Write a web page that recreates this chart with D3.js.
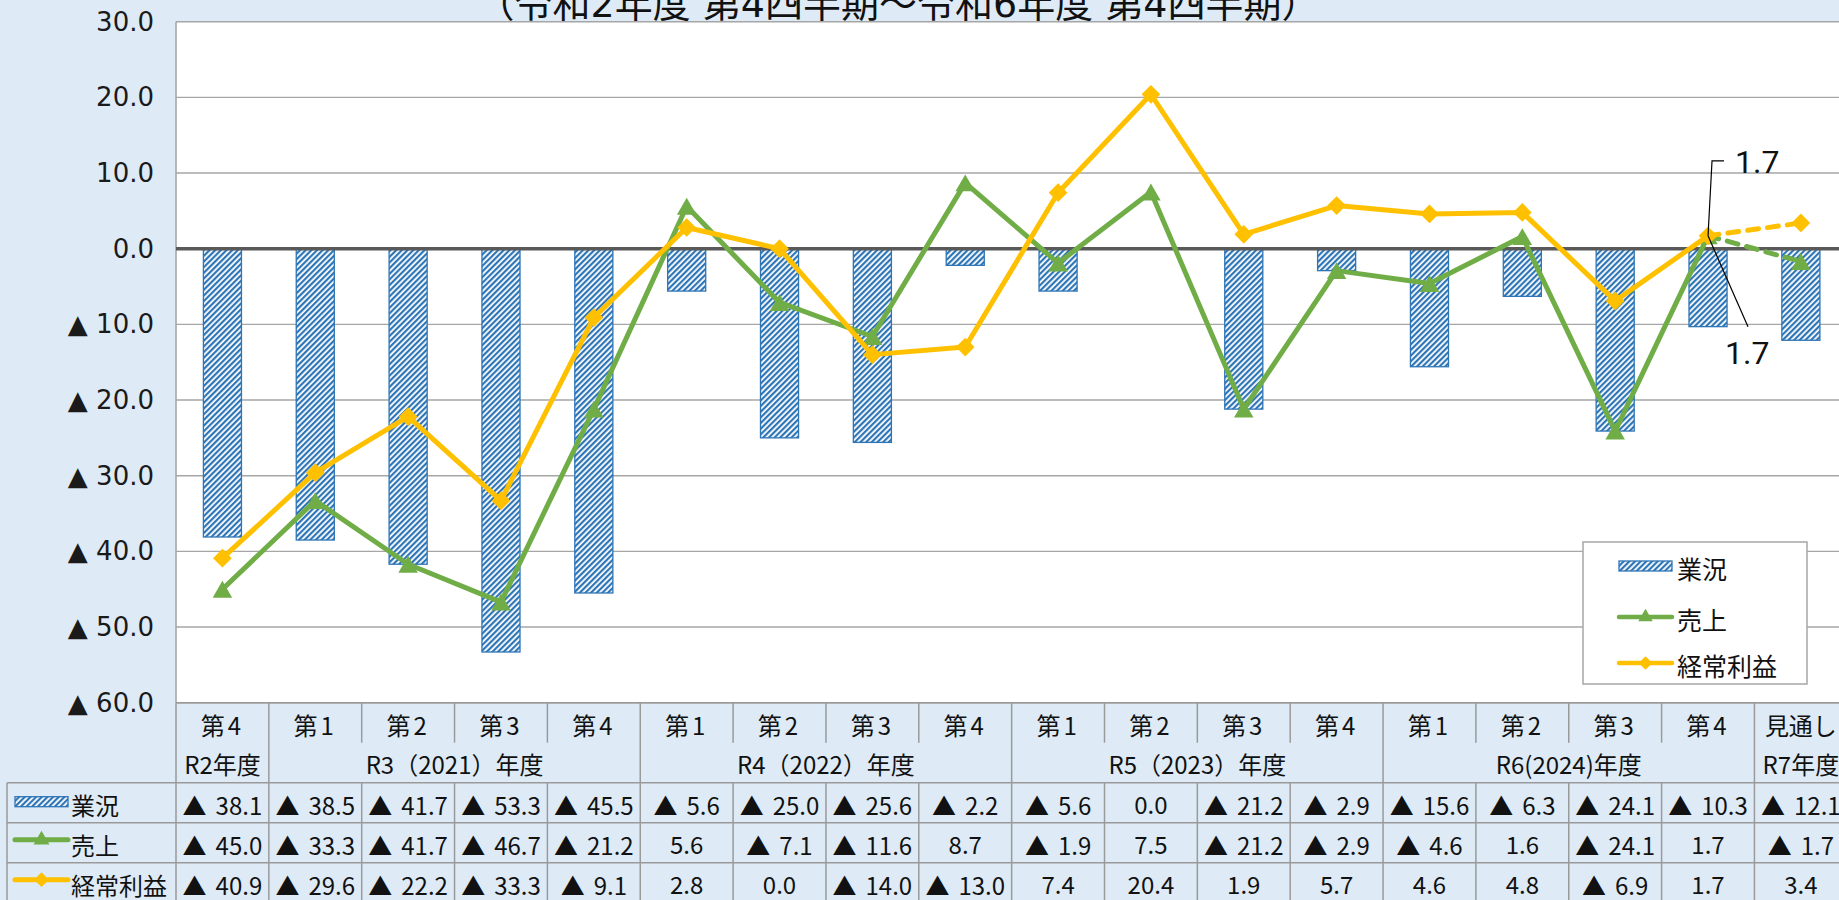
<!DOCTYPE html>
<html>
<head>
<meta charset="utf-8">
<script src="https://cdn.jsdelivr.net/npm/d3@7"></script>
<style>
  html, body { margin: 0; padding: 0; background: #DEEBF7; overflow: hidden; }
  svg { display: block; }
</style>
</head>
<body>
<div id="chart"></div>
<script>
// periods (one per column of the chart / table)
const periods = ["R2Q4", "R3Q1", "R3Q2", "R3Q3", "R3Q4", "R4Q1", "R4Q2", "R4Q3", "R4Q4",
                 "R5Q1", "R5Q2", "R5Q3", "R5Q4", "R6Q1", "R6Q2", "R6Q3", "R6Q4", "R7"];
const quarterLabels = ["第4", "第1", "第2", "第3", "第4", "第1", "第2", "第3", "第4",
                       "第1", "第2", "第3", "第4", "第1", "第2", "第3", "第4", "見通し"];
const yearLabels = ["R2年度", "R3（2021）年度", "R4（2022）年度", "R5（2023）年度", "R6(2024)年度", "R7年度"];
const yearSpans = [1, 4, 4, 4, 4, 1];

// series values (▲ = negative)
const gyokyo = [-38.1, -38.5, -41.7, -53.3, -45.5, -5.6, -25.0, -25.6, -2.2,
                -5.6, 0.0, -21.2, -2.9, -15.6, -6.3, -24.1, -10.3, -12.1];   // 業況
const uriage = [-45.0, -33.3, -41.7, -46.7, -21.2, 5.6, -7.1, -11.6, 8.7,
                -1.9, 7.5, -21.2, -2.9, -4.6, 1.6, -24.1, 1.7, -1.7];        // 売上
const keijo  = [-40.9, -29.6, -22.2, -33.3, -9.1, 2.8, 0.0, -14.0, -13.0,
                7.4, 20.4, 1.9, 5.7, 4.6, 4.8, -6.9, 1.7, 3.4];              // 経常利益

const yTicks = [30, 20, 10, 0, -10, -20, -30, -40, -50, -60];
const title = "（令和2年度 第4四半期～令和6年度 第4四半期）";

// --- layout ---
const width = 1839, height = 900;
const plotLeft = 176, plotTop = 21.7, plotBottom = 702.7;
const step = 92.85;
const GREEN = "#70AD47", YELLOW = "#FFC000", BLUE = "#2E75B6", GRID = "#A6A6A6";
const JP = "'Noto Sans CJK JP', 'Noto Sans', sans-serif";

const x = d3.scaleBand()
    .domain(periods)
    .range([plotLeft, plotLeft + step * periods.length])
    .paddingInner(0.59)
    .paddingOuter(0.295);
const cx = p => x(p) + x.bandwidth() / 2;

const y = d3.scaleLinear().domain([-60, 30]).range([plotBottom, plotTop]);

const fmt = v => v < 0 ? "▲ " + Math.abs(v).toFixed(1) : v.toFixed(1);

const svg = d3.select("#chart").append("svg")
    .attr("width", width)
    .attr("height", height);

// hatch pattern for 業況 bars
const defs = svg.append("defs");
const pat = defs.append("pattern")
    .attr("id", "hatch")
    .attr("patternUnits", "userSpaceOnUse")
    .attr("width", 4).attr("height", 4)
    .attr("patternTransform", "rotate(45)");
pat.append("rect").attr("width", 4).attr("height", 4).attr("fill", "#fff");
pat.append("rect").attr("width", 2.2).attr("height", 4).attr("fill", BLUE);

// background + plot area
svg.append("rect").attr("width", width).attr("height", height).attr("fill", "#DEEBF7");
svg.append("rect")
    .attr("x", plotLeft).attr("y", plotTop)
    .attr("width", width - plotLeft).attr("height", plotBottom - plotTop)
    .attr("fill", "#fff");

// title (partly cut off at the top, as in the original)
svg.append("text")
    .attr("x", 898).attr("y", 17)
    .attr("text-anchor", "middle")
    .style("font-family", "'DejaVu Sans', 'Noto Sans CJK JP', sans-serif")
    .style("font-size", "38px")
    .attr("fill", "#111")
    .text(title);

// gridlines
svg.append("g").selectAll("line")
    .data(yTicks.filter(t => t !== 0))
    .join("line")
    .attr("x1", plotLeft).attr("x2", width)
    .attr("y1", d => y(d)).attr("y2", d => y(d))
    .attr("stroke", GRID).attr("stroke-width", 1.4);

// y axis
const yAxis = svg.append("g")
    .attr("transform", `translate(${plotLeft},0)`)
    .call(d3.axisLeft(y).tickValues(yTicks).tickFormat(fmt).tickSize(0).tickPadding(22));
yAxis.select(".domain").remove();
yAxis.selectAll("text")
    .style("font-family", "'DejaVu Sans', sans-serif")
    .style("font-size", "26px")
    .attr("fill", "#1a1a1a");
svg.append("line")
    .attr("x1", plotLeft).attr("x2", plotLeft)
    .attr("y1", plotTop).attr("y2", plotBottom)
    .attr("stroke", GRID).attr("stroke-width", 1.6);

// bars (業況)
svg.append("g").selectAll("rect")
    .data(periods.map((p, i) => ({ p, v: gyokyo[i] })).filter(d => d.v !== 0))
    .join("rect")
    .attr("x", d => x(d.p))
    .attr("y", d => y(Math.max(0, d.v)))
    .attr("width", x.bandwidth())
    .attr("height", d => Math.abs(y(d.v) - y(0)))
    .attr("fill", "url(#hatch)")
    .attr("stroke", BLUE).attr("stroke-width", 1.3);

// zero line
svg.append("line")
    .attr("x1", plotLeft).attr("x2", width)
    .attr("y1", y(0)).attr("y2", y(0))
    .attr("stroke", "#595959").attr("stroke-width", 3.5);

// lines
const line = d3.line().x(d => cx(d.p)).y(d => y(d.v));
const triSize = 165, diaSize = 175;
const triShift = s => Math.sqrt(s / (Math.sqrt(3) * 3)) / 2;

function drawSeries(values, color, kind) {
    const pts = periods.map((p, i) => ({ p, v: values[i] }));
    const g = svg.append("g");
    g.append("path")
        .attr("d", line(pts.slice(0, 17)))
        .attr("fill", "none").attr("stroke", color)
        .attr("stroke-width", 5).attr("stroke-linejoin", "round");
    g.append("path")
        .attr("d", line(pts.slice(16)))
        .attr("fill", "none").attr("stroke", color)
        .attr("stroke-width", 5).attr("stroke-dasharray", "11,9")
        .attr("stroke-linecap", "round");
    g.selectAll(".m")
        .data(pts)
        .join("path")
        .attr("class", "m")
        .attr("d", kind === "tri"
            ? d3.symbol(d3.symbolTriangle, triSize)()
            : d3.symbol(d3.symbolSquare, diaSize)())
        .attr("transform", d => kind === "tri"
            ? `translate(${cx(d.p)},${y(d.v) + triShift(triSize)})`
            : `translate(${cx(d.p)},${y(d.v)}) rotate(45)`)
        .attr("fill", color);
}
drawSeries(uriage, GREEN, "tri");
drawSeries(keijo, YELLOW, "dia");

// data labels at R6 第4
const lp = periods[16];
const lx = cx(lp);
const labelStyle = sel => sel
    .style("font-family", "Roboto, 'DejaVu Sans', sans-serif")
    .style("font-size", "32px")
    .attr("fill", "#111");

const ly1 = y(uriage[16]);
svg.append("path")
    .attr("d", `M${lx},${ly1} L${lx + 4},${ly1 - 75} L${lx + 16},${ly1 - 75}`)
    .attr("fill", "none").attr("stroke", "#000").attr("stroke-width", 1.2);
svg.append("text").attr("x", lx + 27).attr("y", ly1 - 63)
    .call(labelStyle).text(uriage[16].toFixed(1));

const ly2 = y(keijo[16]);
svg.append("path")
    .attr("d", `M${lx},${ly2} L${lx + 40},${ly2 + 91}`)
    .attr("fill", "none").attr("stroke", "#000").attr("stroke-width", 1.2);
svg.append("text").attr("x", lx + 17).attr("y", ly2 + 128)
    .call(labelStyle).text(keijo[16].toFixed(1));

// legend
const legend = svg.append("g");
legend.append("rect")
    .attr("x", 1583).attr("y", 542).attr("width", 224).attr("height", 142)
    .attr("fill", "#fff").attr("stroke", GRID).attr("stroke-width", 1.5);
const legendItems = [
    { name: "業況", kind: "bar", cy: 566 },
    { name: "売上", kind: "tri", color: GREEN, cy: 617 },
    { name: "経常利益", kind: "dia", color: YELLOW, cy: 663 }
];

function drawKey(g, kind, color, x0, x1, cyk, msize, lw) {
    if (kind === "bar") {
        g.append("rect").attr("x", x0).attr("y", cyk - 5)
            .attr("width", x1 - x0).attr("height", 10)
            .attr("fill", "url(#hatch)").attr("stroke", BLUE).attr("stroke-width", 1.3);
        return;
    }
    g.append("line").attr("x1", x0).attr("x2", x1).attr("y1", cyk).attr("y2", cyk)
        .attr("stroke", color).attr("stroke-width", lw).attr("stroke-linecap", "round");
    const mx = (x0 + x1) / 2;
    g.append("path")
        .attr("d", kind === "tri"
            ? d3.symbol(d3.symbolTriangle, msize)()
            : d3.symbol(d3.symbolSquare, msize)())
        .attr("transform", kind === "tri"
            ? `translate(${mx},${cyk + triShift(msize) - 2})`
            : `translate(${mx},${cyk}) rotate(45)`)
        .attr("fill", color);
}

legendItems.forEach(d => {
    drawKey(legend, d.kind, d.color, 1619, 1672, d.cy, 90, 4.5);
    legend.append("text")
        .attr("x", 1677).attr("y", d.cy + 2)
        .attr("dominant-baseline", "central")
        .style("font-family", JP).style("font-size", "25px")
        .attr("fill", "#111")
        .text(d.name);
});

// --- data table ---
const table = svg.append("g");
const tTop = plotBottom, r1 = tTop + 40, r2 = tTop + 80;
const rowH = 40;
const colL = i => plotLeft + i * step;
const tableStroke = sel => sel.attr("stroke", "#9A9A9A").attr("stroke-width", 1.5);

// horizontal rules
table.append("line").attr("x1", plotLeft).attr("x2", width).attr("y1", tTop).attr("y2", tTop).call(tableStroke);
[0, 1, 2, 3].forEach(k => {
    table.append("line").attr("x1", 7).attr("x2", width)
        .attr("y1", r2 + k * rowH).attr("y2", r2 + k * rowH).call(tableStroke);
});
// vertical rules
table.append("line").attr("x1", 7).attr("x2", 7).attr("y1", r2).attr("y2", r2 + 3 * rowH).call(tableStroke);
const groupEdges = d3.cumsum(yearSpans);
for (let i = 0; i <= periods.length; i++) {
    const xx = colL(i);
    const isGroup = i === 0 || groupEdges.includes(i);
    if (isGroup) {
        table.append("line").attr("x1", xx).attr("x2", xx).attr("y1", tTop).attr("y2", r2 + 3 * rowH).call(tableStroke);
    } else {
        table.append("line").attr("x1", xx).attr("x2", xx).attr("y1", tTop).attr("y2", r1).call(tableStroke);
        table.append("line").attr("x1", xx).attr("x2", xx).attr("y1", r2).attr("y2", r2 + 3 * rowH).call(tableStroke);
    }
}

const cellText = (xx, yy, txt, anchor) => table.append("text")
    .attr("x", xx).attr("y", yy)
    .attr("text-anchor", anchor || "middle")
    .attr("dominant-baseline", "central")
    .style("font-family", JP).style("font-size", "24px")
    .attr("fill", "#111")
    .text(txt);

// header rows
quarterLabels.forEach((q, i) => cellText(cx(periods[i]), tTop + 22, q)
    .style("letter-spacing", q.startsWith("第") ? "3px" : "0px"));
let start = 0;
yearLabels.forEach((lbl, k) => {
    const end = start + yearSpans[k];
    cellText((colL(start) + colL(end)) / 2, r1 + 21, lbl);
    start = end;
});

// data rows
const rows = [
    { name: "業況", kind: "bar", values: gyokyo },
    { name: "売上", kind: "tri", color: GREEN, values: uriage },
    { name: "経常利益", kind: "dia", color: YELLOW, values: keijo }
];
rows.forEach((r, k) => {
    const cy = r2 + k * rowH + rowH / 2 + 1;
    drawKey(table, r.kind, r.color, 15, 68, r.kind === "bar" ? cy - 2 : cy - 4, 110, 5);
    table.append("text")
        .attr("x", 71).attr("y", cy + 1)
        .attr("dominant-baseline", "central")
        .style("font-family", JP).style("font-size", "24px")
        .attr("fill", "#111")
        .text(r.name);
    r.values.forEach((v, i) => {
        const t = cellText(cx(periods[i]), cy, "");
        if (v < 0) {
            t.append("tspan").text("▲");
            t.append("tspan").attr("dx", 9).text(Math.abs(v).toFixed(1));
        } else {
            t.text(v.toFixed(1));
        }
    });
});
</script>
</body>
</html>
